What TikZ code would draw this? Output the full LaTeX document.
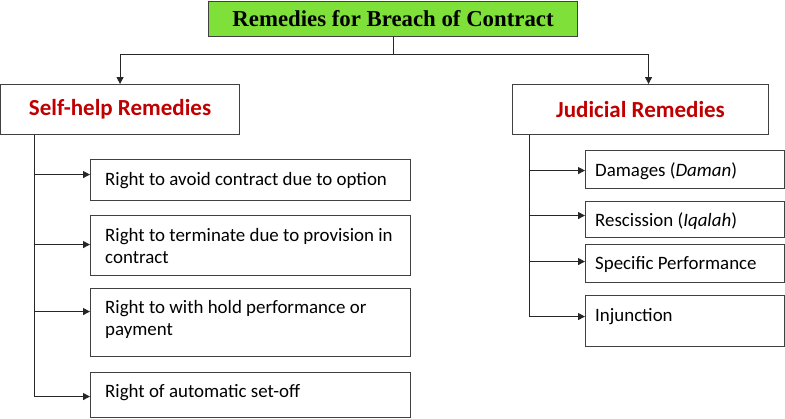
\documentclass[tikz,border=0pt]{standalone}
\usepackage{fontspec}
\setmainfont{Carlito}
\newfontfamily\titlefont{Liberation Serif}
\usetikzlibrary{arrows.meta}
\definecolor{tgreen}{RGB}{127,224,58}
\definecolor{hred}{RGB}{192,0,0}
\definecolor{bord}{RGB}{64,64,64}
\begin{document}
\begin{tikzpicture}[x=1pt,y=-1pt,
 box/.style={draw=bord,line width=1.1pt,inner sep=0pt,anchor=north west},
 txt/.style={font=\fontsize{18.9}{22}\selectfont,anchor=base west,align=left,inner sep=0pt},
 head/.style={font=\fontsize{23}{26}\selectfont\bfseries,text=hred},
 conn/.style={draw=black!85,line width=0.9pt},
 arr/.style={conn,-{Triangle[length=7pt,width=7pt]}}]
\useasboundingbox (0,0) rectangle (785,418);
% title and headers
\node[box,fill=tgreen,minimum width=369pt,minimum height=35pt,font=\titlefont\fontsize{22.8}{26}\selectfont\bfseries] (title) at (208,1) {Remedies for Breach of Contract};
\node[box,minimum width=239pt,minimum height=50pt,head] (self) at (0,84) {Self-help Remedies};
\node[box,minimum width=256pt,minimum height=50pt,head] (jud) at (512,84) {Judicial Remedies};
% left boxes
\node[box,minimum width=320pt,minimum height=41pt] (b1) at (90,159) {};
\node[box,minimum width=320pt,minimum height=60pt] (b2) at (90,215) {};
\node[box,minimum width=320pt,minimum height=68pt] (b3) at (90,288) {};
\node[box,minimum width=320pt,minimum height=45pt] (b4) at (90,372) {};
\node[txt] (t1) at (105,185) {Right to avoid contract due to option};
\node[txt] (t2) at (105,263) {Right to terminate due to provision in\\contract};
\node[txt] (t3) at (105,335) {Right to with hold performance or\\payment};
\node[txt] (t4) at (105,397) {Right of automatic set-off};
% right boxes
\node[box,minimum width=199pt,minimum height=38pt] (d) at (585,150) {};
\node[box,minimum width=199pt,minimum height=36pt] (r) at (585,201) {};
\node[box,minimum width=199pt,minimum height=38pt] (s) at (585,244) {};
\node[box,minimum width=199pt,minimum height=51pt] (i) at (585,295) {};
\node[txt] (td) at (595,176) {Damages (\textit{Daman})};
\node[txt] (tr) at (595,226) {Rescission (\textit{Iqalah})};
\node[txt] (ts) at (595,269) {Specific Performance};
\node[txt] (ti) at (595,321) {Injunction};
% top connectors
\draw[conn] (title.south) -- ++(0,17) coordinate (hub);
\draw[arr] (hub) -| (self.north);
\draw[arr] (hub) -| ([xshift=8pt]jud.north);
% left connectors
\coordinate (lv) at ([xshift=34pt]self.south west);
\coordinate (a1) at ([yshift=5.5pt]b1.west);
\coordinate (a2) at ([yshift=1pt]b2.west);
\coordinate (a3) at ([yshift=11pt]b3.west);
\coordinate (a4) at ([yshift=-1.5pt]b4.west);
\draw[arr] (lv) |- (a4);
\draw[arr] (lv |- a1) -- (a1);
\draw[arr] (lv |- a2) -- (a2);
\draw[arr] (lv |- a3) -- (a3);
% right connectors
\coordinate (rv) at ([xshift=17pt]jud.south west);
\coordinate (c1) at ([yshift=-1pt]d.west);
\coordinate (c2) at ([yshift=4pt]r.west);
\coordinate (c3) at ([yshift=2pt]s.west);
\coordinate (c4) at ([yshift=4.5pt]i.west);
\draw[arr] (rv) |- (c4);
\draw[arr] (rv |- c1) -- (c1);
\draw[arr] (rv |- c2) -- (c2);
\draw[arr] (rv |- c3) -- (c3);
\end{tikzpicture}
\end{document}
